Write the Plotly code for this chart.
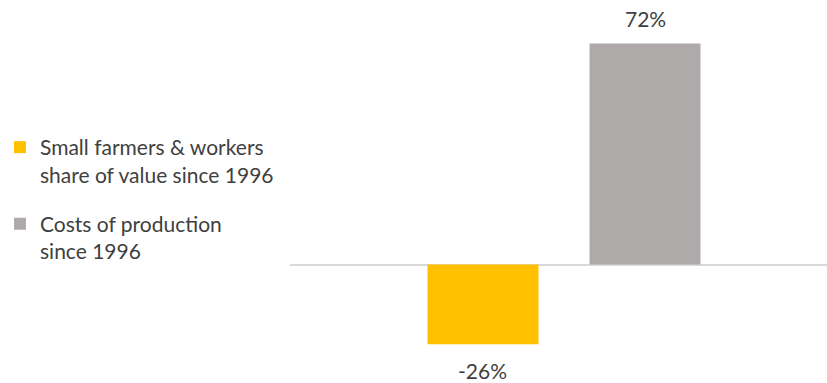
import plotly.graph_objects as go

# Change since 1996, in percent
series_names = [
    "Small farmers & workers<br>share of value since 1996",
    "Costs of production<br>since 1996",
]
categories = ["Share of value", "Costs of production"]
values = [-26, 72]
colors = ["#FFC000", "#AEAAAA"]
value_labels = ["-26%", "72%"]

FONT = "Lato, 'Open Sans', sans-serif"
TEXT_COLOR = "#404040"

fig = go.Figure()
for i, (name, cat, val, col) in enumerate(zip(series_names, categories, values, colors)):
    fig.add_trace(go.Bar(
        x=[cat], y=[val], name=name, marker=dict(color=col, line=dict(width=0)),
        width=0.685, legendgroup=f"g{i}", hoverinfo="skip",
    ))
    # value label beyond the end of each bar
    fig.add_annotation(
        x=cat, y=val, text=value_labels[i], showarrow=False,
        yanchor="bottom" if val >= 0 else "top",
        yshift=11 if val >= 0 else -12,
        font=dict(family=FONT, size=21, color=TEXT_COLOR),
    )

fig.update_layout(
    width=827, height=383,
    margin=dict(l=290, r=0, t=0, b=0),
    paper_bgcolor="white", plot_bgcolor="white",
    barmode="overlay",
    showlegend=True,
    legend=dict(
        xref="container", yref="container", x=0.0, y=1 - 127 / 383,
        xanchor="left", yanchor="top", valign="top",
        font=dict(family=FONT, size=21, color=TEXT_COLOR),
        tracegroupgap=19, bgcolor="rgba(0,0,0,0)",
    ),
    xaxis=dict(range=[-1.191, 2.123], showticklabels=False, showgrid=False,
               zeroline=False, showline=False, ticks=""),
    yaxis=dict(range=[-38.6, 86.2], showticklabels=False, showgrid=False,
               zeroline=True, zerolinecolor="#D9D9D9", zerolinewidth=2,
               showline=False, ticks=""),
)

fig.write_html("out.html")
